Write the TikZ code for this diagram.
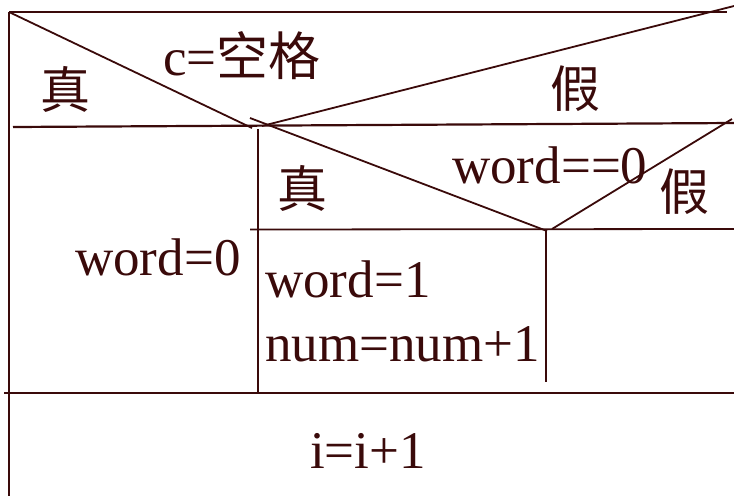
\documentclass[tikz,border=0pt]{standalone}
\usepackage{fontspec}
\setmainfont{Liberation Serif}
\newfontfamily\cjk{Noto Sans CJK SC}
\definecolor{ink}{HTML}{3A0A0A}
\begin{document}
\begin{tikzpicture}[x=1pt,y=-1pt,
  rule/.style={draw=ink,line width=2.2pt},
  thin/.style={draw=ink,line width=1.8pt},
  txt/.style={text=ink,inner sep=0pt,font=\fontsize{53}{60}\selectfont},
  zi/.style={txt,font=\fontsize{50}{58}\selectfont\cjk}]
\useasboundingbox (0,0) rectangle (734,496);

% frame and block corners
\coordinate (tl) at (9,12);
\coordinate (tr) at (727,12);
\coordinate (bl) at (9,496);
\coordinate (h1l) at (13,127);
\coordinate (h1r) at (734,123);
\coordinate (h3l) at (4,393);
\coordinate (h3r) at (734,393);

% outer decision: c = space
\coordinate (a1) at (252,128);
\coordinate (b0) at (262,126);
\coordinate (b1) at (734,6);

% inner decision: word == 0
\coordinate (v1t) at (258,129);
\coordinate (v1b) at (258,393);
\coordinate (c0) at (250,118);
\coordinate (c1) at (547,231);
\coordinate (d0) at (552,229);
\coordinate (d1) at (732,119);
\coordinate (h2l) at (250,229.5);
\coordinate (h2r) at (734,229);
\coordinate (v2t) at (546,229);
\coordinate (v2b) at (546,382);

\draw[rule] (tl) -- (tr);
\draw[rule] (tl) -- (bl);
\draw[rule] (h1l) -- (h1r);
\draw[rule] (h3l) -- (h3r);
\draw[thin] (tl) -- (a1);
\draw[thin] (b0) -- (b1);
\draw[thin] (v1t) -- (v1b);
\draw[thin] (c0) -- (c1);
\draw[thin] (d0) -- (d1);
\draw[thin] (h2l) -- (h2r);
\draw[thin] (v2t) -- (v2b);

% labels
\node[zi] (t1) at (65,89) {真};
\node[zi] (f1) at (575,89) {假};
\node[txt,anchor=base west] (cond1) at (163,75) {c={\fontsize{52}{60}\selectfont\cjk 空格}};
\node[zi] (t2) at (302,188) {真};
\node[zi] (f2) at (684,192) {假};
\node[txt,anchor=base west] (cond2) at (452,183) {word==0};
\node[txt,anchor=base west] (s0) at (75,275) {word=0};
\node[txt,anchor=base west] (s1) at (265,297) {word=1};
\node[txt,anchor=base west] (s2) at (265,361) {num=num+1};
\node[txt,anchor=base west] (s3) at (310,468) {i=i+1};
\end{tikzpicture}
\end{document}
